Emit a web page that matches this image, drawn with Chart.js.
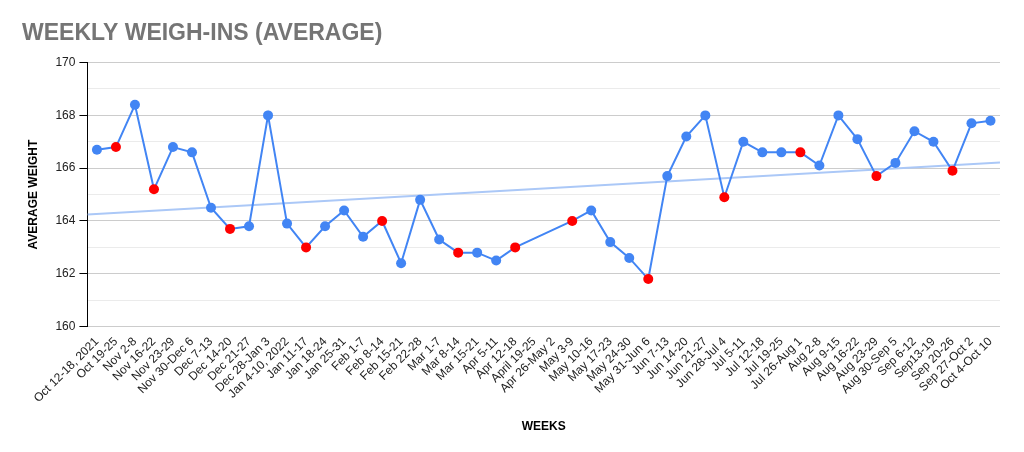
<!DOCTYPE html>
<html>
<head>
<meta charset="utf-8">
<script src="https://cdn.jsdelivr.net/npm/chart.js@4.4.1/dist/chart.umd.min.js"></script>
<style>
    html, body { margin: 0; padding: 0; background: #fff; }
    #wrap { width: 1024px; height: 452px; }
</style>
</head>
<body>
<div id="wrap"><canvas id="weighChart"></canvas></div>
<script>
// weeks on the x axis
const weeks = [
    'Oct 12-18, 2021', 'Oct 19-25', 'Nov 2-8', 'Nov 16-22', 'Nov 23-29', 'Nov 30-Dec 6',
    'Dec 7-13', 'Dec 14-20', 'Dec 21-27', 'Dec 28-Jan 3', 'Jan 4-10, 2022', 'Jan 11-17',
    'Jan 18-24', 'Jan 25-31', 'Feb 1-7', 'Feb 8-14', 'Feb 15-21', 'Feb 22-28',
    'Mar 1-7', 'Mar 8-14', 'Mar 15-21', 'Apr 5-11', 'Apr 12-18', 'April 19-25',
    'Apr 26-May 2', 'May 3-9', 'May 10-16', 'May 17-23', 'May 24-30', 'May 31-Jun 6',
    'Jun 7-13', 'Jun 14-20', 'Jun 21-27', 'Jun 28-Jul 4', 'Jul 5-11', 'Jul 12-18',
    'Jul 19-25', 'Jul 26-Aug 1', 'Aug 2-8', 'Aug 9-15', 'Aug 16-22', 'Aug 23-29',
    'Aug 30-Sep 5', 'Sep 6-12', 'Sep13-19', 'Sep 20-26', 'Sep 27-Oct 2', 'Oct 4-Oct 10'
];

// average weight per week (null = no weigh-in that week)
const avgWeight = [
    166.7, 166.8, 168.4, 165.2, 166.8, 166.6,
    164.5, 163.7, 163.8, 168.0, 163.9, 163.0,
    163.8, 164.4, 163.4, 164.0, 162.4, 164.8,
    163.3, 162.8, 162.8, 162.5, 163.0, null,
    null, 164.0, 164.4, 163.2, 162.6, 161.8,
    165.7, 167.2, 168.0, 164.9, 167.0, 166.6,
    166.6, 166.6, 166.1, 168.0, 167.1, 165.7,
    166.2, 167.4, 167.0, 165.9, 167.7, 167.8
];

// weeks marked in red
const redWeeks = [
    'Oct 19-25', 'Nov 16-22', 'Dec 14-20', 'Jan 11-17', 'Feb 8-14', 'Mar 8-14',
    'Apr 12-18', 'May 3-9', 'May 31-Jun 6', 'Jun 28-Jul 4', 'Jul 26-Aug 1',
    'Aug 23-29', 'Sep 20-26'
];

// trendline ends
const trendStart = 164.25;
const trendEnd = 166.22;

const BLUE = '#4285f4';
const RED = '#ff0000';
const FONT = 'Arial, "Liberation Sans", sans-serif';

const pointColors = weeks.map(w => redWeeks.includes(w) ? RED : BLUE);

new Chart(document.getElementById('weighChart').getContext('2d'), {
    type: 'line',
    data: {
        labels: weeks,
        datasets: [{
            label: 'Average',
            data: avgWeight,
            borderColor: BLUE,
            borderWidth: 2,
            pointBackgroundColor: pointColors,
            pointBorderColor: pointColors,
            pointRadius: 5,
            pointBorderWidth: 0,
            spanGaps: true,
            tension: 0,
            order: 1
        }, {
            label: 'Trend',
            data: [{ x: -0.5, y: trendStart }, { x: weeks.length - 0.5, y: trendEnd }],
            xAxisID: 'xTrend',
            borderColor: '#abc8f7',
            borderWidth: 2,
            pointRadius: 0,
            order: 2
        }]
    },
    options: {
        responsive: true,
        maintainAspectRatio: false,
        animation: false,
        layout: {
            padding: { left: 22, right: 24, top: 6, bottom: 14 }
        },
        plugins: {
            legend: { display: false },
            tooltip: { enabled: false },
            title: {
                display: true,
                text: 'WEEKLY WEIGH-INS (AVERAGE)',
                align: 'start',
                color: '#757575',
                font: { family: FONT, size: 23, weight: 'bold' },
                padding: { top: 14, bottom: 15 }
            }
        },
        scales: {
            x: {
                offset: true,
                grid: { display: false },
                border: { display: false },
                ticks: {
                    autoSkip: false,
                    maxRotation: 45,
                    minRotation: 45,
                    color: '#222',
                    padding: 0,
                    font: { family: FONT, size: 12 }
                },
                title: {
                    display: true,
                    text: 'WEEKS',
                    color: '#000',
                    font: { family: FONT, size: 12, weight: 'bold' },
                    padding: { top: 14 }
                }
            },
            xTrend: {
                type: 'linear',
                display: false,
                min: -0.5,
                max: weeks.length - 0.5
            },
            y: {
                min: 160,
                max: 170,
                border: { display: true, color: '#000', width: 1 },
                grid: {
                    color: ctx => ctx.tick.value % 2 === 0 ? '#cccccc' : '#ebebeb',
                    tickColor: ctx => ctx.tick.value % 2 === 0 ? '#000' : 'rgba(0,0,0,0)',
                    tickLength: 8
                },
                ticks: {
                    stepSize: 1,
                    color: '#222',
                    padding: 4,
                    font: { family: FONT, size: 12 },
                    callback: v => v % 2 === 0 ? v : ''
                },
                title: {
                    display: true,
                    text: 'AVERAGE WEIGHT',
                    color: '#000',
                    font: { family: FONT, size: 12, weight: 'bold' },
                    padding: { bottom: 11 }
                }
            }
        }
    }
});
</script>
</body>
</html>
